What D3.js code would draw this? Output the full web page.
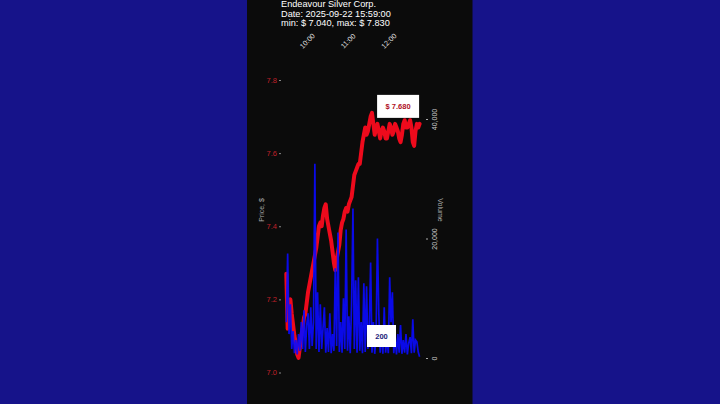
<!DOCTYPE html>
<html><head><meta charset="utf-8">
<script src="https://cdn.jsdelivr.net/npm/d3@7"></script>
<style>
html,body{margin:0;padding:0;background:#16138a;}
svg{display:block;}
text{font-family:"Liberation Sans",Arial,Helvetica,sans-serif;}
</style></head>
<body>
<svg id="chart" width="720" height="404"></svg>
<script>
const titleLines = ["Endeavour Silver Corp.", "Date: 2025-09-22 15:59:00", "min: $ 7.040, max: $ 7.830"];

const times = [
 "09:30","09:32","09:34","09:36","09:38","09:40","09:42","09:44","09:46","09:48","09:50","09:52","09:54","09:56","09:58",
 "10:00","10:02","10:04","10:06","10:08","10:10","10:12","10:14","10:16","10:18","10:20","10:22","10:24","10:26","10:28",
 "10:30","10:32","10:34","10:36","10:38","10:40","10:42","10:44","10:46","10:48","10:50","10:52","10:54","10:56","10:58",
 "11:00","11:02","11:04","11:06","11:08","11:10","11:12","11:14","11:16","11:18","11:20","11:22","11:24","11:26","11:28",
 "11:30","11:32","11:34","11:36","11:38","11:40","11:42","11:44","11:46","11:48","11:50","11:52","11:54","11:56","11:58",
 "12:00","12:02","12:04","12:06","12:08","12:10","12:12","12:14","12:16","12:18","12:20","12:22","12:24","12:26","12:28",
 "12:30","12:32","12:34","12:36","12:38","12:40","12:42","12:44","12:46"
];

const prices = [
 7.27,7.12,7.19,7.20,7.16,7.13,7.10,7.08,7.05,7.04,
 7.07,7.10,7.12,7.15,7.16,7.19,7.22,7.24,7.26,7.28,
 7.30,7.32,7.34,7.37,7.40,7.41,7.40,7.43,7.45,7.46,
 7.42,7.40,7.38,7.36,7.33,7.30,7.28,7.31,7.33,7.35,
 7.39,7.41,7.42,7.44,7.45,7.44,7.46,7.47,7.48,7.51,
 7.54,7.55,7.56,7.57,7.57,7.60,7.63,7.65,7.67,7.65,
 7.66,7.68,7.70,7.71,7.68,7.65,7.67,7.68,7.66,7.64,
 7.66,7.67,7.66,7.64,7.64,7.66,7.68,7.67,7.65,7.66,
 7.68,7.67,7.66,7.64,7.63,7.65,7.68,7.69,7.67,7.67,
 7.68,7.69,7.67,7.63,7.62,7.66,7.68,7.67,7.68
];

const volumes = [
 6000,17500,4000,9000,1500,4500,800,3000,600,4000,
 1200,6000,1500,8000,1000,5500,7500,1500,8500,2000,
 6000,32500,1500,11000,1000,9000,1500,5000,8500,900,
 5000,1000,7500,800,4000,1200,15000,2000,21000,1000,
 6000,900,10000,1500,21500,1200,7000,800,9000,25000,
 1500,13000,900,13500,1200,6000,800,12500,1000,12000,
 1500,5000,16000,900,6000,700,3500,20000,7500,900,
 4500,700,8500,900,3500,800,13500,6000,11000,800,
 3500,600,4000,900,5500,700,3000,900,4000,600,
 2500,3500,800,6500,900,3000,2700,1000,200
];

const priceTicks = [7.0, 7.2, 7.4, 7.6, 7.8];
const volumeTicks = [0, 20000, 40000];
const timeTicks = ["10:00", "11:00", "12:00"];

const parseT = d3.timeParse("%H:%M");
const data = times.map((t, i) => ({t: parseT(t), p: prices[i], v: volumes[i]}));

const svg = d3.select("#chart");

svg.append("rect").attr("x", 0).attr("y", 0).attr("width", 720).attr("height", 404).attr("fill", "#16138a");
svg.append("rect").attr("x", 247).attr("y", 0).attr("width", 225.5).attr("height", 404).attr("fill", "#0b0b0b");

const x = d3.scaleTime().domain(d3.extent(data, d => d.t)).range([286.3, 419.6]);
const yP = d3.scaleLinear().domain([7.0, 7.8]).range([372.5, 80]);
const yV = d3.scaleLinear().domain([0, 40000]).range([358, 119]);

// title
const title = svg.append("text").attr("x", 281).attr("y", 7.5)
  .attr("fill", "#ffffff").style("font-size", "9.2px");
titleLines.forEach((l, i) => {
  title.append("tspan").attr("x", 281).attr("y", 7.3 + i * 9.3).text(l);
});

// x axis (top, rotated labels)
const xAxis = svg.append("g").attr("transform", "translate(0,41)")
  .call(d3.axisTop(x).tickValues(timeTicks.map(parseT)).tickFormat(d3.timeFormat("%H:%M")).tickSize(0));
xAxis.select(".domain").remove();
xAxis.selectAll("text")
  .attr("y", 0).attr("dy", "0.35em").attr("text-anchor", "middle")
  .attr("transform", "rotate(-45)")
  .attr("fill", "#dddddd").style("font-size", "7.2px");

// price axis
const pAxis = svg.append("g").attr("transform", "translate(281,0)")
  .call(d3.axisLeft(yP).tickValues(priceTicks).tickFormat(d3.format(".1f")).tickSize(2).tickPadding(2));
pAxis.select(".domain").remove();
pAxis.selectAll("line").attr("stroke", "#888");
pAxis.selectAll("text").attr("fill", "#c0202a").style("font-size", "7.5px");

// volume axis
const vAxis = svg.append("g").attr("transform", "translate(426,0)")
  .call(d3.axisRight(yV).tickValues(volumeTicks).tickFormat(d3.format(",")).tickSize(2));
vAxis.select(".domain").remove();
vAxis.selectAll("line").attr("stroke", "#aaa");
vAxis.selectAll("text")
  .attr("x", 0).attr("dy", 0).attr("text-anchor", "middle")
  .attr("transform", "translate(10.5,0) rotate(-90)")
  .attr("fill", "#cccccc").style("font-size", "7px");

// axis titles
svg.append("text").attr("transform", "translate(263.5,210) rotate(-90)")
  .attr("text-anchor", "middle").attr("fill", "#aaaaaa").style("font-size", "7px").text("Price, $");
svg.append("text").attr("transform", "translate(438,210) rotate(90)")
  .attr("text-anchor", "middle").attr("fill", "#aaaaaa").style("font-size", "7px").text("Volume");

// price line
svg.append("path").datum(data)
  .attr("fill", "none").attr("stroke", "#ee0a1c").attr("stroke-width", 4)
  .attr("stroke-linejoin", "round").attr("stroke-linecap", "round")
  .attr("d", d3.line().x(d => x(d.t)).y(d => yP(d.p)));

// volume line
svg.append("path").datum(data)
  .attr("fill", "none").attr("stroke", "#0a0aff").attr("stroke-width", 1.7)
  .attr("stroke-opacity", 0.9).attr("stroke-linejoin", "miter")
  .attr("d", d3.line().x(d => x(d.t)).y(d => yV(d.v)));

// annotations
const last = data[data.length - 1];
const lx = x(last.t), lpy = yP(last.p), lvy = yV(last.v);

svg.append("rect").attr("x", lx - 42.5).attr("y", lpy - 29).attr("width", 42).attr("height", 23).attr("fill", "#ffffff");
svg.append("text").attr("x", lx - 21.5).attr("y", lpy - 17.5).attr("dy", "0.35em")
  .attr("text-anchor", "middle").attr("fill", "#b0101e").style("font-size", "7.5px").style("font-weight", "bold")
  .text("$ " + d3.format(".3f")(last.p));

svg.append("rect").attr("x", lx - 52.6).attr("y", lvy - 31.8).attr("width", 29).attr("height", 22).attr("fill", "#ffffff");
svg.append("text").attr("x", lx - 38.1).attr("y", lvy - 20.8).attr("dy", "0.35em")
  .attr("text-anchor", "middle").attr("fill", "#1a1a7a").style("font-size", "7.5px").style("font-weight", "bold")
  .text(d3.format(",")(last.v));
</script>
</body></html>
